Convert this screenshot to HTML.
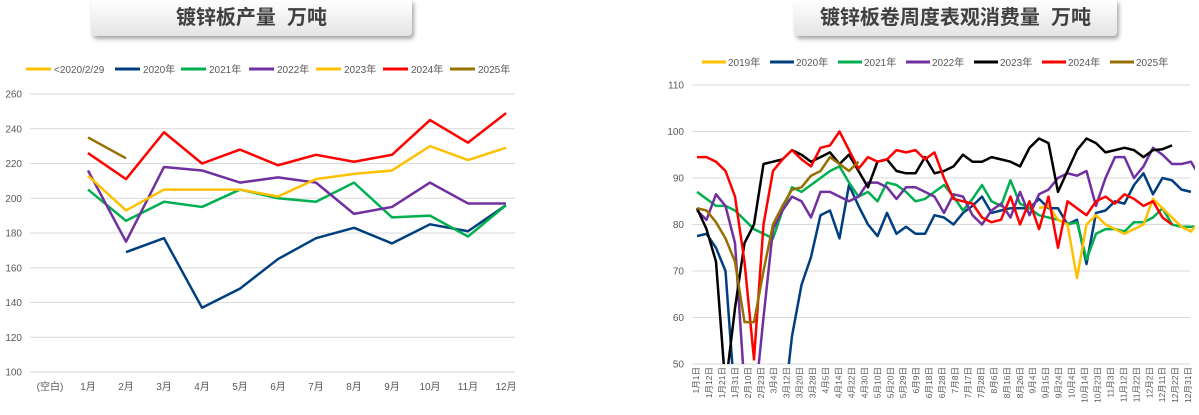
<!DOCTYPE html>
<html><head><meta charset="utf-8"><style>
html,body{margin:0;width:1199px;height:415px;background:#fff;overflow:hidden;font-family:"Liberation Sans","Noto Sans CJK SC",sans-serif}
.tb{position:absolute;top:0;height:36px;background:linear-gradient(#fff,#e4e4e4);border-radius:0 0 4px 4px;box-shadow:2px 3px 4px rgba(0,0,0,.35);font:bold 20px "Liberation Sans","Noto Sans CJK SC",sans-serif;color:#404040;text-align:center;line-height:36px}
svg{overflow:hidden;display:block}
</style></head><body>
<div class="tb" style="left:91px;width:321px">镀锌板产量&nbsp; 万吨</div>
<div class="tb" style="left:794px;width:323px">镀锌板卷周度表观消费量&nbsp; 万吨</div>
<svg id="s" width="1199" height="415" style="position:absolute;left:0;top:0"></svg>
<script>
var s=document.getElementById('s'),h='<defs><clipPath id="c"><rect x="680" y="70" width="515" height="294"/></clipPath></defs>';
function L(x1,y1,x2,y2,c,w){h+=`<line x1="${x1}" y1="${y1}" x2="${x2}" y2="${y2}" stroke="${c}" stroke-width="${w}"/>`}
function T(x,y,t,a,sz,r){h+=`<text x="${x}" y="${y}" font-size="${sz||10}" fill="#595959" text-anchor="${a||'start'}"${r?` transform="rotate(-90 ${x} ${y})"`:''}>${t}</text>`}
var ly=v=>372-(v-100)*1.7375, lx=i=>88+i*38;
for(var v=100;v<=260;v+=20){L(30,ly(v),515,ly(v),'#d9d9d9',1);T(22,ly(v)+3.5,v,'end')}
T(50,390,'(空白)','middle');for(var i=0;i<12;i++)T(lx(i),390,(i+1)+'月','middle');
var lg=[['<2020/2/29','#ffc000'],['2020年','#003f7f'],['2021年','#00b050'],['2022年','#7030a0'],['2023年','#ffc000'],['2024年','#ff0000'],['2025年','#977000']];
var lpos=[26,115,181,249,316,383,450];
lg.forEach((g,i)=>{L(lpos[i],69,lpos[i]+25,69,g[1],3);T(lpos[i]+28,73,g[0])});
function P(pts,c,clip){h+=`<polyline points="${pts}" fill="none" stroke="${c}" stroke-width="2.5" stroke-linejoin="round"${clip?' clip-path="url(#c)"':''}/>`}
function LS(arr,c,st){P(arr.map((v,i)=>lx(i+(st||0))+','+ly(v)).join(' '),c)}
LS([169,177,137,148,165,177,183,174,185,181,196],'#003f7f',1);
LS([205,187,198,195,205,200,198,209,189,190,178,196],'#00b050');
LS([216,175,218,216,209,212,209,191,195,209,197,197],'#7030a0');
LS([213,193,205,205,205,201,211,214,216,230,222,229],'#ffc000');
LS([226,211,238,220,228,219,225,221,225,245,232,249],'#ff0000');
LS([235,223],'#977000');
var ry=v=>364-(v-50)*4.65, rx=i=>697+i*9.5;
for(var v=50;v<=110;v+=10){L(692,ry(v),1190,ry(v),'#d9d9d9',1);T(684,ry(v)+3.5,v,'end')}
var d=[1,12,21,31,10,23,4,12,20,28,5,14,22,30,10,20,29,9,18,28,8,17,28,6,16,26,4,15,24,4,14,23,3,12,22,2,11,22,31],m=1;
d.forEach((dd,i)=>{if(i>0&&dd<d[i-1])m++;T(699+i*12.95,367,m+'月'+dd+'日','end',8.5,1)});
var rg=[['2019年','#ffc000'],['2020年','#003f7f'],['2021年','#00b050'],['2022年','#7030a0'],['2023年','#000000'],['2024年','#ff0000'],['2025年','#977000']];
rg.forEach((g,i)=>{var x=702+i*68;L(x,62,x+24,62,g[1],3);T(x+26,66,g[0])});
function RS(arr,c,st){P(arr.map((v,i)=>rx(i+(st||0)).toFixed(1)+','+ry(v).toFixed(1)).join(' '),c,1)}
RS([77.5,78,75,70,42,30,25,25,30,38,56,67,73,82,83,77,88.5,84,80,77.5,82.5,78,79.5,78,78,82,81.5,80,82.5,84,86,82.5,83,83.5,83.5,83.5,85.5,83.5,83.5,80,81,71.5,82.5,83,85,84.5,88.5,91,86.5,90,89.5,87.5,87],'#003f7f');
RS([87,85.5,84,84,83,81,79,78,77,83,88,87,88.5,90,91.5,92.5,89,86,87,85,89,88.5,87,85,85.5,87,88.5,86,83,85.5,88.5,85,84,89.5,84.5,83.5,82,81.5,81,80,80.5,72.5,78,79,79,78.5,80.5,80.5,81.5,83.5,80,79.5,79.5,79.7],'#00b050');
RS([83.5,84,81,80,68.5,80,82,80,79,78,79,80,85.5,83.5,81.5,79.5,78.5,81],'#ffc000',36);
RS([83,81,86.5,84,76,45,40,60,79,83,86,85,81.5,87,87,86,85,86,89,89,88,85.5,88,88,87,86,82.5,86.5,86,82,80,83,84.5,81.5,87,82,86.5,87.5,90,91,90.5,91.5,84,90,94.5,94.5,90,92.5,96.5,95,93,93,93.5,90],'#7030a0');
RS([83.5,79,72,45,62,76,80,93,93.5,94,96,95,93.5,94.5,95.5,93,95,91.5,88,93.5,94,91.5,91,91,94.5,91,91.5,92.5,95,93.5,93.5,94.5,94,93.5,92.5,96.5,98.5,97.5,87,91.5,96,98.5,97.5,95.5,96,96.5,96,94.5,96,96.2,97],'#000000');
RS([94.5,94.5,93.5,91.5,86,72,51,80,91.5,94,96,94,92.5,96.5,97,100,96,92,94.5,93.5,94,96,95.5,96,94,95.5,90,85.5,85,84.5,81.5,80.5,81,86,80,85,79,86,75,85,83.5,82,85,86,84.5,86.5,85.5,84,85,81.5,80],'#ff0000');
RS([83.5,83,80.5,77,72,59,59,70,80,84,87.5,88,90.5,91.5,94.5,93,91.5,93.5],'#977000');
s.innerHTML=h;
</script>
</body></html>
